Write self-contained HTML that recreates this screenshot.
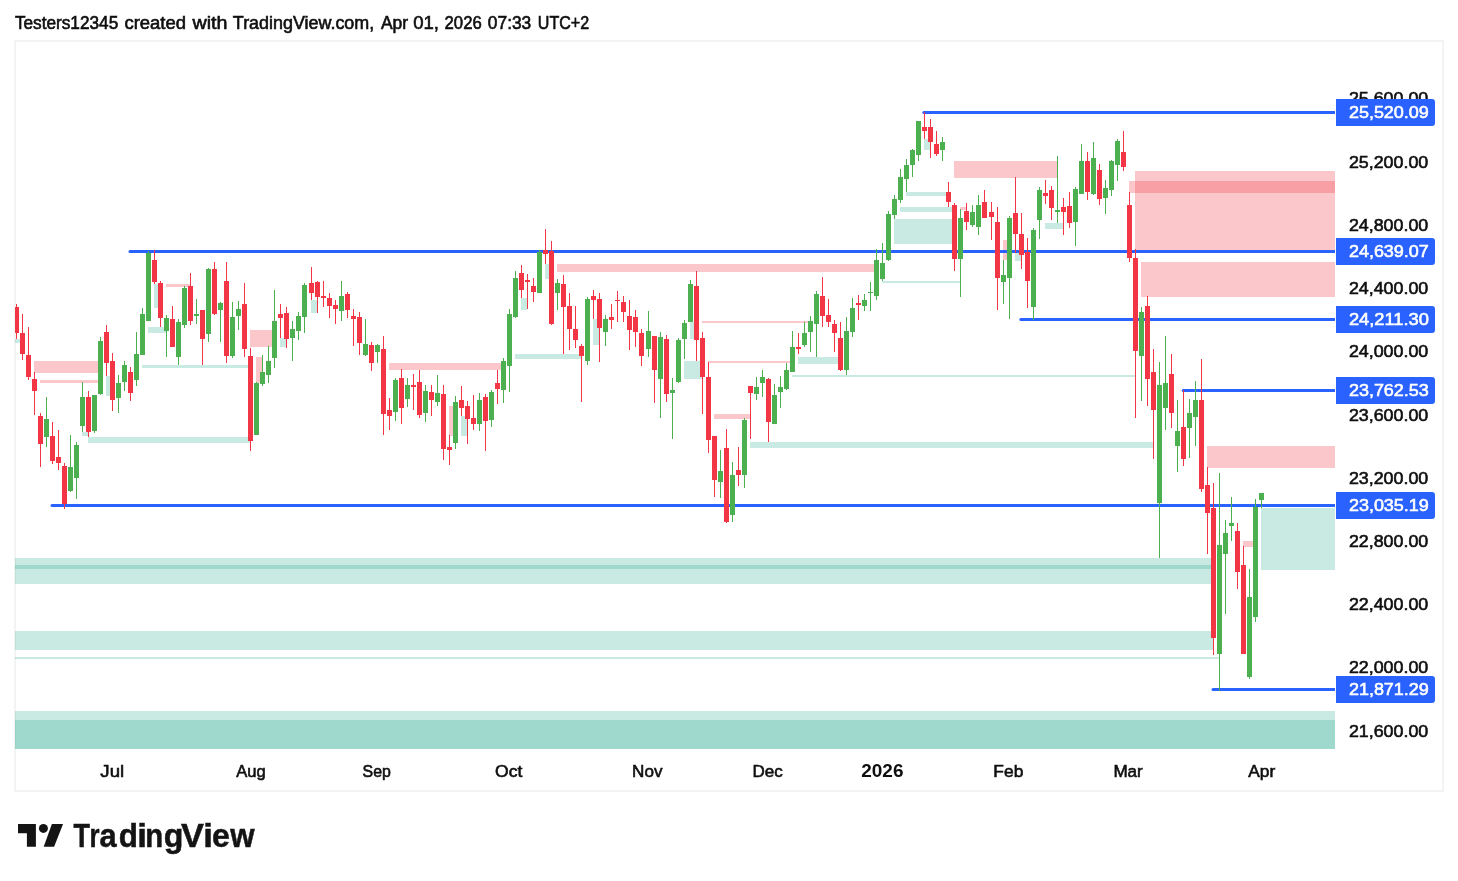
<!DOCTYPE html>
<html lang="en"><head><meta charset="utf-8"><title>TradingView chart snapshot</title>
<style>
html,body{margin:0;padding:0;background:#fff;}
body{width:1458px;height:881px;overflow:hidden;position:relative;font-family:"Liberation Sans",sans-serif;}
svg{position:absolute;left:0;top:0;display:block}
svg rect, .candles path{shape-rendering:crispEdges}
.zr{fill:rgba(242,54,69,0.28)}
.zg{fill:rgba(8,153,129,0.22)}
.u{fill:#4caf50}
.d{fill:#f23645}
.ax{font-family:"Liberation Sans",sans-serif;font-size:17.1px;fill:#0f0f0f;stroke:#0f0f0f;stroke-width:0.6px}
.ax.w{fill:#fff;stroke:#fff}
.ax.b{font-weight:bold;stroke-width:0;font-size:18.2px}
.ax.t{font-size:17.1px}
.hd{font-family:"Liberation Sans",sans-serif;font-size:17.6px;fill:#0f0f0f;stroke:#0f0f0f;stroke-width:0.6px}
.logo{font-family:"Liberation Sans",sans-serif;font-weight:bold;font-size:32.6px;fill:#141414;stroke:#141414;stroke-width:0.5px}
</style></head><body>
<svg width="1458" height="881" viewBox="0 0 1458 881">
<rect x="0" y="0" width="1458" height="881" fill="#fff"/>
<text y="28.75" class="hd"><tspan x="14.91" textLength="103.32" lengthAdjust="spacingAndGlyphs">Testers12345</tspan> <tspan x="124.41" textLength="61.53" lengthAdjust="spacingAndGlyphs">created</tspan> <tspan x="192.50" textLength="34.97" lengthAdjust="spacingAndGlyphs">with</tspan> <tspan x="232.89" textLength="141.35" lengthAdjust="spacingAndGlyphs">TradingView.com,</tspan> <tspan x="380.90" textLength="27.19" lengthAdjust="spacingAndGlyphs">Apr</tspan> <tspan x="413.21" textLength="25.80" lengthAdjust="spacingAndGlyphs">01,</tspan> <tspan x="444.55" textLength="37.16" lengthAdjust="spacingAndGlyphs">2026</tspan> <tspan x="487.86" textLength="43.41" lengthAdjust="spacingAndGlyphs">07:33</tspan> <tspan x="537.86" textLength="51.33" lengthAdjust="spacingAndGlyphs">UTC+2</tspan></text>
<rect x="15" y="41" width="1428" height="750" fill="#fff" stroke="#f3f3f3" stroke-width="2"/>
<g class="zones">
<rect x="15" y="339" width="7" height="4" class="zg"/>
<rect x="34" y="361" width="66" height="12" class="zr"/>
<rect x="40" y="380" width="60" height="3" class="zr"/>
<rect x="154" y="284" width="6" height="24" class="zg"/>
<rect x="166" y="284" width="24" height="3" class="zr"/>
<rect x="148" y="327" width="18" height="6" class="zg"/>
<rect x="142" y="365" width="108" height="3" class="zg"/>
<rect x="106" y="376" width="6" height="20" class="zg"/>
<rect x="82" y="432" width="6" height="4" class="zg"/>
<rect x="88" y="437" width="162" height="6" class="zg"/>
<rect x="250" y="330" width="24" height="17" class="zr"/>
<rect x="256" y="357" width="6" height="26" class="zr"/>
<rect x="280" y="338" width="6" height="9" class="zg"/>
<rect x="311" y="300" width="6" height="13" class="zg"/>
<rect x="389" y="363" width="114" height="7" class="zr"/>
<rect x="449" y="406" width="6" height="30" class="zr"/>
<rect x="461" y="416" width="6" height="20" class="zg"/>
<rect x="545" y="264" width="6" height="15" class="zg"/>
<rect x="521" y="298" width="6" height="12" class="zg"/>
<rect x="515" y="354" width="66" height="5" class="zg"/>
<rect x="593" y="319" width="6" height="26" class="zg"/>
<rect x="690" y="322" width="6" height="17" class="zg"/>
<rect x="684" y="361" width="18" height="18" class="zg"/>
<rect x="702" y="321" width="108" height="2" class="zr"/>
<rect x="708" y="361" width="84" height="2" class="zr"/>
<rect x="714" y="414" width="36" height="5" class="zr"/>
<rect x="750" y="442" width="403" height="6" class="zg"/>
<rect x="557" y="264" width="319" height="8" class="zr"/>
<rect x="798" y="357" width="42" height="7" class="zg"/>
<rect x="792" y="375" width="343" height="2" class="zg"/>
<rect x="882" y="281" width="78" height="2" class="zg"/>
<rect x="894" y="219" width="60" height="25" class="zg"/>
<rect x="900" y="207" width="54" height="5" class="zg"/>
<rect x="906" y="192" width="42" height="4" class="zg"/>
<rect x="924" y="139" width="6" height="11" class="zg"/>
<rect x="954" y="161" width="103" height="17" class="zr"/>
<rect x="960" y="207" width="6" height="3" class="zr"/>
<rect x="1003" y="240" width="6" height="20" class="zr"/>
<rect x="1015" y="253" width="6" height="8" class="zg"/>
<rect x="1045" y="223" width="18" height="6" class="zg"/>
<rect x="1135" y="171" width="200" height="79" class="zr"/>
<rect x="1129" y="181" width="206" height="12" class="zr"/>
<rect x="1141" y="262" width="194" height="35" class="zr"/>
<rect x="1207" y="446" width="128" height="22" class="zr"/>
<rect x="1261" y="508" width="74" height="62" class="zg"/>
<rect x="1243" y="541" width="12" height="6" class="zr"/>
<rect x="15" y="558" width="1198" height="11" class="zg"/>
<rect x="15" y="565" width="1198" height="19" class="zg"/>
<rect x="15" y="631" width="1198" height="19" class="zg"/>
<rect x="15" y="657" width="1204" height="2" class="zg"/>
<rect x="15" y="711" width="1320" height="38" class="zg"/>
<rect x="15" y="720" width="1320" height="29" class="zg"/>
</g>
<g class="levels" fill="#2962ff">
<path d="M923.8 111H1335v3H923.8a1.5 1.5 0 0 1 0-3z"/>
<path d="M130 250H1335v3H130a1.5 1.5 0 0 1 0-3z"/>
<path d="M1020.8 318H1335v3H1020.8a1.5 1.5 0 0 1 0-3z"/>
<path d="M1183.2 389H1335v3H1183.2a1.5 1.5 0 0 1 0-3z"/>
<path d="M52 504H1335v3H52a1.5 1.5 0 0 1 0-3z"/>
<path d="M1213 688H1335v3H1213a1.5 1.5 0 0 1 0-3z"/>
</g>
<g class="candles">
<path class="d" d="M16 304h1v35h-1zM15 307h4v26h-4z"/>
<path class="d" d="M22 314h1v46h-1zM20 333h5v21h-5z"/>
<path class="d" d="M28 327h1v53h-1zM26 355h5v22h-5z"/>
<path class="d" d="M34 372h1v43h-1zM32 379h5v12h-5z"/>
<path class="d" d="M40 413h1v54h-1zM38 416h5v28h-5z"/>
<path class="u" d="M46 397h1v50h-1zM44 419h5v18h-5z"/>
<path class="d" d="M52 422h1v42h-1zM50 436h5v25h-5z"/>
<path class="d" d="M58 430h1v40h-1zM56 457h5v6h-5z"/>
<path class="d" d="M64 463h1v46h-1zM62 466h5v38h-5z"/>
<path class="u" d="M70 435h1v57h-1zM68 467h5v24h-5z"/>
<path class="u" d="M76 442h1v57h-1zM74 445h5v33h-5z"/>
<path class="u" d="M82 382h1v50h-1zM80 397h5v29h-5z"/>
<path class="d" d="M88 391h1v46h-1zM86 397h5v35h-5z"/>
<path class="u" d="M94 395h1v38h-1zM92 395h5v36h-5z"/>
<path class="u" d="M100 337h1v58h-1zM98 341h5v53h-5z"/>
<path class="d" d="M106 325h1v51h-1zM104 332h5v31h-5z"/>
<path class="d" d="M112 353h1v58h-1zM110 361h5v39h-5z"/>
<path class="u" d="M118 375h1v38h-1zM116 383h5v15h-5z"/>
<path class="u" d="M124 361h1v30h-1zM122 365h5v17h-5z"/>
<path class="d" d="M130 367h1v34h-1zM128 372h5v21h-5z"/>
<path class="u" d="M136 332h1v54h-1zM134 354h5v26h-5z"/>
<path class="u" d="M142 308h1v47h-1zM140 314h5v41h-5z"/>
<path class="u" d="M148 251h1v70h-1zM146 253h5v68h-5z"/>
<path class="d" d="M154 250h1v34h-1zM152 260h5v22h-5z"/>
<path class="d" d="M160 281h1v46h-1zM158 283h5v35h-5z"/>
<path class="u" d="M166 315h1v42h-1zM164 318h5v13h-5z"/>
<path class="d" d="M172 306h1v41h-1zM170 319h5v28h-5z"/>
<path class="u" d="M178 319h1v46h-1zM176 322h5v35h-5z"/>
<path class="u" d="M184 286h1v42h-1zM182 288h5v37h-5z"/>
<path class="d" d="M190 273h1v52h-1zM188 286h5v35h-5z"/>
<path class="u" d="M196 299h1v25h-1zM194 314h5v2h-5z"/>
<path class="d" d="M202 310h1v55h-1zM200 310h5v29h-5z"/>
<path class="u" d="M208 268h1v74h-1zM206 269h5v65h-5z"/>
<path class="d" d="M214 262h1v53h-1zM212 269h5v45h-5z"/>
<path class="u" d="M220 302h1v40h-1zM218 303h5v7h-5z"/>
<path class="d" d="M226 262h1v101h-1zM224 281h5v75h-5z"/>
<path class="u" d="M232 302h1v56h-1zM230 317h5v39h-5z"/>
<path class="u" d="M238 301h1v29h-1zM236 309h5v7h-5z"/>
<path class="d" d="M244 283h1v74h-1zM242 304h5v45h-5z"/>
<path class="d" d="M250 348h1v103h-1zM248 356h5v85h-5z"/>
<path class="u" d="M256 382h1v53h-1zM254 383h5v52h-5z"/>
<path class="u" d="M262 355h1v31h-1zM260 372h5v12h-5z"/>
<path class="u" d="M268 346h1v37h-1zM266 361h5v14h-5z"/>
<path class="u" d="M274 290h1v78h-1zM272 321h5v37h-5z"/>
<path class="d" d="M280 304h1v34h-1zM278 314h5v4h-5z"/>
<path class="d" d="M286 307h1v41h-1zM284 313h5v26h-5z"/>
<path class="u" d="M292 321h1v40h-1zM290 329h5v9h-5z"/>
<path class="u" d="M298 312h1v28h-1zM296 316h5v15h-5z"/>
<path class="u" d="M304 283h1v50h-1zM302 285h5v32h-5z"/>
<path class="d" d="M311 267h1v33h-1zM309 283h5v10h-5z"/>
<path class="d" d="M317 281h1v32h-1zM315 282h5v15h-5z"/>
<path class="d" d="M323 281h1v26h-1zM321 296h5v2h-5z"/>
<path class="d" d="M329 293h1v25h-1zM327 298h5v8h-5z"/>
<path class="d" d="M335 300h1v24h-1zM333 305h5v4h-5z"/>
<path class="u" d="M341 281h1v40h-1zM339 296h5v15h-5z"/>
<path class="d" d="M347 292h1v26h-1zM345 294h5v16h-5z"/>
<path class="d" d="M353 309h1v37h-1zM351 316h5v3h-5z"/>
<path class="d" d="M359 312h1v43h-1zM357 317h5v26h-5z"/>
<path class="u" d="M365 319h1v37h-1zM363 344h5v11h-5z"/>
<path class="d" d="M371 342h1v29h-1zM369 345h5v18h-5z"/>
<path class="u" d="M377 344h1v19h-1zM375 345h5v7h-5z"/>
<path class="d" d="M383 336h1v99h-1zM381 349h5v65h-5z"/>
<path class="d" d="M389 398h1v32h-1zM387 410h5v6h-5z"/>
<path class="u" d="M395 378h1v43h-1zM393 380h5v32h-5z"/>
<path class="d" d="M401 369h1v55h-1zM399 378h5v30h-5z"/>
<path class="u" d="M407 378h1v29h-1zM405 385h5v14h-5z"/>
<path class="d" d="M413 374h1v36h-1zM411 385h5v2h-5z"/>
<path class="d" d="M419 370h1v48h-1zM417 382h5v33h-5z"/>
<path class="u" d="M425 385h1v37h-1zM423 391h5v22h-5z"/>
<path class="d" d="M431 385h1v31h-1zM429 392h5v8h-5z"/>
<path class="u" d="M437 375h1v31h-1zM435 393h5v9h-5z"/>
<path class="d" d="M443 385h1v75h-1zM441 394h5v55h-5z"/>
<path class="d" d="M449 435h1v30h-1zM447 447h5v3h-5z"/>
<path class="u" d="M455 396h1v53h-1zM453 402h5v41h-5z"/>
<path class="d" d="M461 386h1v30h-1zM459 400h5v8h-5z"/>
<path class="d" d="M467 401h1v43h-1zM465 406h5v13h-5z"/>
<path class="d" d="M473 395h1v35h-1zM471 418h5v6h-5z"/>
<path class="u" d="M479 393h1v38h-1zM477 400h5v24h-5z"/>
<path class="d" d="M485 394h1v57h-1zM483 397h5v24h-5z"/>
<path class="u" d="M491 390h1v37h-1zM489 392h5v28h-5z"/>
<path class="d" d="M497 370h1v34h-1zM495 383h5v6h-5z"/>
<path class="u" d="M503 358h1v45h-1zM501 361h5v29h-5z"/>
<path class="u" d="M509 309h1v83h-1zM507 314h5v52h-5z"/>
<path class="u" d="M515 271h1v47h-1zM513 278h5v39h-5z"/>
<path class="d" d="M521 265h1v33h-1zM519 273h5v17h-5z"/>
<path class="d" d="M527 274h1v35h-1zM525 280h5v2h-5z"/>
<path class="d" d="M533 278h1v24h-1zM531 286h5v6h-5z"/>
<path class="u" d="M539 250h1v43h-1zM537 252h5v41h-5z"/>
<path class="d" d="M545 229h1v35h-1zM543 250h5v4h-5z"/>
<path class="d" d="M551 241h1v84h-1zM549 251h5v73h-5z"/>
<path class="u" d="M557 279h1v31h-1zM555 283h5v10h-5z"/>
<path class="d" d="M563 275h1v79h-1zM561 284h5v23h-5z"/>
<path class="d" d="M569 293h1v57h-1zM567 306h5v23h-5z"/>
<path class="d" d="M575 306h1v42h-1zM573 329h5v11h-5z"/>
<path class="d" d="M581 344h1v58h-1zM579 346h5v10h-5z"/>
<path class="u" d="M587 297h1v68h-1zM585 299h5v62h-5z"/>
<path class="d" d="M593 290h1v29h-1zM591 296h5v4h-5z"/>
<path class="d" d="M599 293h1v69h-1zM597 299h5v29h-5z"/>
<path class="u" d="M605 315h1v31h-1zM603 319h5v13h-5z"/>
<path class="d" d="M611 304h1v25h-1zM609 317h5v3h-5z"/>
<path class="d" d="M617 291h1v31h-1zM615 300h5v1h-5z"/>
<path class="d" d="M623 296h1v26h-1zM621 302h5v10h-5z"/>
<path class="d" d="M629 300h1v50h-1zM627 316h5v14h-5z"/>
<path class="d" d="M635 310h1v37h-1zM633 317h5v15h-5z"/>
<path class="d" d="M641 329h1v37h-1zM639 333h5v23h-5z"/>
<path class="u" d="M648 311h1v46h-1zM646 331h5v18h-5z"/>
<path class="d" d="M654 336h1v67h-1zM652 336h5v34h-5z"/>
<path class="u" d="M660 332h1v86h-1zM658 337h5v42h-5z"/>
<path class="d" d="M666 335h1v67h-1zM664 339h5v55h-5z"/>
<path class="u" d="M672 378h1v61h-1zM670 390h5v3h-5z"/>
<path class="u" d="M678 338h1v45h-1zM676 340h5v42h-5z"/>
<path class="u" d="M684 320h1v39h-1zM682 323h5v16h-5z"/>
<path class="u" d="M690 280h1v42h-1zM688 284h5v38h-5z"/>
<path class="d" d="M696 271h1v90h-1zM694 286h5v54h-5z"/>
<path class="d" d="M702 332h1v82h-1zM700 338h5v39h-5z"/>
<path class="d" d="M708 362h1v91h-1zM706 377h5v63h-5z"/>
<path class="d" d="M714 436h1v61h-1zM712 436h5v44h-5z"/>
<path class="u" d="M720 450h1v48h-1zM718 471h5v11h-5z"/>
<path class="d" d="M726 429h1v94h-1zM724 448h5v74h-5z"/>
<path class="u" d="M732 462h1v60h-1zM730 475h5v40h-5z"/>
<path class="d" d="M738 447h1v39h-1zM736 470h5v5h-5z"/>
<path class="u" d="M744 418h1v70h-1zM742 420h5v55h-5z"/>
<path class="d" d="M750 386h1v53h-1zM748 386h5v7h-5z"/>
<path class="u" d="M756 377h1v23h-1zM754 387h5v7h-5z"/>
<path class="u" d="M762 370h1v27h-1zM760 377h5v6h-5z"/>
<path class="d" d="M768 378h1v64h-1zM766 379h5v43h-5z"/>
<path class="u" d="M774 384h1v40h-1zM772 395h5v29h-5z"/>
<path class="u" d="M780 376h1v32h-1zM778 387h5v5h-5z"/>
<path class="u" d="M786 363h1v27h-1zM784 370h5v19h-5z"/>
<path class="u" d="M792 331h1v41h-1zM790 347h5v25h-5z"/>
<path class="d" d="M798 333h1v21h-1zM796 347h5v2h-5z"/>
<path class="u" d="M804 322h1v25h-1zM802 333h5v12h-5z"/>
<path class="u" d="M810 316h1v36h-1zM808 321h5v11h-5z"/>
<path class="u" d="M816 291h1v66h-1zM814 294h5v30h-5z"/>
<path class="d" d="M822 277h1v50h-1zM820 296h5v20h-5z"/>
<path class="d" d="M828 299h1v28h-1zM826 315h5v7h-5z"/>
<path class="d" d="M834 320h1v32h-1zM832 324h5v9h-5z"/>
<path class="d" d="M840 322h1v49h-1zM838 338h5v32h-5z"/>
<path class="u" d="M846 317h1v58h-1zM844 331h5v39h-5z"/>
<path class="u" d="M852 298h1v39h-1zM850 308h5v24h-5z"/>
<path class="d" d="M858 295h1v25h-1zM856 303h5v2h-5z"/>
<path class="u" d="M864 294h1v17h-1zM862 300h5v6h-5z"/>
<path class="u" d="M870 282h1v29h-1zM868 292h5v1h-5z"/>
<path class="u" d="M876 249h1v51h-1zM874 260h5v36h-5z"/>
<path class="u" d="M882 243h1v38h-1zM880 263h5v16h-5z"/>
<path class="u" d="M888 211h1v50h-1zM886 214h5v46h-5z"/>
<path class="u" d="M894 195h1v24h-1zM892 199h5v16h-5z"/>
<path class="u" d="M900 169h1v34h-1zM898 177h5v23h-5z"/>
<path class="u" d="M906 159h1v33h-1zM904 165h5v14h-5z"/>
<path class="u" d="M912 149h1v28h-1zM910 150h5v15h-5z"/>
<path class="u" d="M918 121h1v40h-1zM916 121h5v34h-5z"/>
<path class="d" d="M924 112h1v27h-1zM922 127h5v4h-5z"/>
<path class="d" d="M930 119h1v39h-1zM928 127h5v15h-5z"/>
<path class="d" d="M936 131h1v25h-1zM934 144h5v10h-5z"/>
<path class="u" d="M942 137h1v24h-1zM940 142h5v8h-5z"/>
<path class="d" d="M948 182h1v25h-1zM946 192h5v10h-5z"/>
<path class="d" d="M954 203h1v68h-1zM952 205h5v54h-5z"/>
<path class="u" d="M960 209h1v88h-1zM958 218h5v41h-5z"/>
<path class="d" d="M966 203h1v27h-1zM964 211h5v11h-5z"/>
<path class="u" d="M972 205h1v22h-1zM970 212h5v13h-5z"/>
<path class="u" d="M978 195h1v40h-1zM976 205h5v22h-5z"/>
<path class="d" d="M984 190h1v28h-1zM982 202h5v16h-5z"/>
<path class="d" d="M991 202h1v38h-1zM989 212h5v5h-5z"/>
<path class="d" d="M997 207h1v103h-1zM995 222h5v56h-5z"/>
<path class="u" d="M1003 260h1v44h-1zM1001 275h5v7h-5z"/>
<path class="u" d="M1009 216h1v103h-1zM1007 218h5v60h-5z"/>
<path class="d" d="M1015 177h1v76h-1zM1013 213h5v21h-5z"/>
<path class="d" d="M1021 213h1v56h-1zM1019 234h5v21h-5z"/>
<path class="d" d="M1027 238h1v70h-1zM1025 252h5v29h-5z"/>
<path class="u" d="M1033 228h1v92h-1zM1031 230h5v77h-5z"/>
<path class="u" d="M1039 187h1v52h-1zM1037 190h5v30h-5z"/>
<path class="d" d="M1045 180h1v24h-1zM1043 193h5v3h-5z"/>
<path class="d" d="M1051 186h1v34h-1zM1049 190h5v18h-5z"/>
<path class="u" d="M1057 156h1v67h-1zM1055 210h5v2h-5z"/>
<path class="d" d="M1063 198h1v37h-1zM1061 207h5v5h-5z"/>
<path class="d" d="M1069 192h1v36h-1zM1067 206h5v17h-5z"/>
<path class="u" d="M1075 187h1v59h-1zM1073 189h5v33h-5z"/>
<path class="u" d="M1081 144h1v50h-1zM1079 161h5v33h-5z"/>
<path class="d" d="M1087 152h1v48h-1zM1085 161h5v31h-5z"/>
<path class="u" d="M1093 142h1v53h-1zM1091 158h5v36h-5z"/>
<path class="d" d="M1099 164h1v41h-1zM1097 170h5v29h-5z"/>
<path class="u" d="M1105 180h1v34h-1zM1103 188h5v10h-5z"/>
<path class="u" d="M1111 160h1v36h-1zM1109 161h5v29h-5z"/>
<path class="u" d="M1117 139h1v42h-1zM1115 141h5v24h-5z"/>
<path class="d" d="M1123 131h1v40h-1zM1121 152h5v15h-5z"/>
<path class="d" d="M1129 192h1v70h-1zM1127 205h5v53h-5z"/>
<path class="d" d="M1135 249h1v169h-1zM1133 258h5v93h-5z"/>
<path class="u" d="M1141 307h1v94h-1zM1139 312h5v44h-5z"/>
<path class="d" d="M1147 296h1v110h-1zM1145 306h5v73h-5z"/>
<path class="d" d="M1153 349h1v110h-1zM1151 372h5v38h-5z"/>
<path class="u" d="M1159 362h1v196h-1zM1157 385h5v118h-5z"/>
<path class="u" d="M1165 336h1v94h-1zM1163 383h5v25h-5z"/>
<path class="d" d="M1171 354h1v74h-1zM1169 374h5v39h-5z"/>
<path class="u" d="M1177 400h1v72h-1zM1175 431h5v15h-5z"/>
<path class="d" d="M1183 390h1v76h-1zM1181 427h5v32h-5z"/>
<path class="u" d="M1189 399h1v59h-1zM1187 413h5v15h-5z"/>
<path class="u" d="M1195 381h1v65h-1zM1193 400h5v17h-5z"/>
<path class="d" d="M1201 359h1v133h-1zM1199 400h5v89h-5z"/>
<path class="d" d="M1207 467h1v87h-1zM1205 485h5v28h-5z"/>
<path class="d" d="M1213 483h1v172h-1zM1211 508h5v130h-5z"/>
<path class="u" d="M1219 473h1v218h-1zM1217 545h5v109h-5z"/>
<path class="u" d="M1225 520h1v94h-1zM1223 533h5v21h-5z"/>
<path class="u" d="M1231 497h1v44h-1zM1229 523h5v3h-5z"/>
<path class="d" d="M1237 523h1v66h-1zM1235 531h5v41h-5z"/>
<path class="d" d="M1243 546h1v108h-1zM1241 565h5v89h-5z"/>
<path class="u" d="M1249 569h1v110h-1zM1247 597h5v80h-5z"/>
<path class="u" d="M1255 499h1v123h-1zM1253 507h5v110h-5z"/>
<path class="u" d="M1261 493h1v15h-1zM1259 493h5v7h-5z"/>
</g>
<g class="axis">
<text x="1348.92" y="736.67" class="ax" textLength="79.35" lengthAdjust="spacingAndGlyphs">21,600.00</text>
<text x="1348.92" y="673.44" class="ax" textLength="79.35" lengthAdjust="spacingAndGlyphs">22,000.00</text>
<text x="1348.92" y="610.22" class="ax" textLength="79.35" lengthAdjust="spacingAndGlyphs">22,400.00</text>
<text x="1348.92" y="546.99" class="ax" textLength="79.35" lengthAdjust="spacingAndGlyphs">22,800.00</text>
<text x="1348.92" y="483.77" class="ax" textLength="79.35" lengthAdjust="spacingAndGlyphs">23,200.00</text>
<text x="1348.92" y="420.55" class="ax" textLength="79.35" lengthAdjust="spacingAndGlyphs">23,600.00</text>
<text x="1348.92" y="357.32" class="ax" textLength="79.35" lengthAdjust="spacingAndGlyphs">24,000.00</text>
<text x="1348.92" y="294.10" class="ax" textLength="79.35" lengthAdjust="spacingAndGlyphs">24,400.00</text>
<text x="1348.92" y="230.87" class="ax" textLength="79.35" lengthAdjust="spacingAndGlyphs">24,800.00</text>
<text x="1348.92" y="167.65" class="ax" textLength="79.35" lengthAdjust="spacingAndGlyphs">25,200.00</text>
<text x="1348.92" y="104.43" class="ax" textLength="79.35" lengthAdjust="spacingAndGlyphs">25,600.00</text>
<path d="M1336 99h96a3 3 0 0 1 3 3v21a3 3 0 0 1-3 3h-96z" fill="#2962ff"/>
<text x="1348.91" y="117.55" class="ax w" textLength="79.93" lengthAdjust="spacingAndGlyphs">25,520.09</text>
<path d="M1336 238h96a3 3 0 0 1 3 3v21a3 3 0 0 1-3 3h-96z" fill="#2962ff"/>
<text x="1348.91" y="256.55" class="ax w" textLength="79.93" lengthAdjust="spacingAndGlyphs">24,639.07</text>
<path d="M1336 306h96a3 3 0 0 1 3 3v21a3 3 0 0 1-3 3h-96z" fill="#2962ff"/>
<text x="1348.90" y="324.55" class="ax w" textLength="79.94" lengthAdjust="spacingAndGlyphs">24,211.30</text>
<path d="M1336 377h96a3 3 0 0 1 3 3v21a3 3 0 0 1-3 3h-96z" fill="#2962ff"/>
<text x="1348.91" y="395.55" class="ax w" textLength="79.93" lengthAdjust="spacingAndGlyphs">23,762.53</text>
<path d="M1336 492h96a3 3 0 0 1 3 3v21a3 3 0 0 1-3 3h-96z" fill="#2962ff"/>
<text x="1348.91" y="510.55" class="ax w" textLength="79.93" lengthAdjust="spacingAndGlyphs">23,035.19</text>
<path d="M1336 676h96a3 3 0 0 1 3 3v21a3 3 0 0 1-3 3h-96z" fill="#2962ff"/>
<text x="1348.91" y="694.55" class="ax w" textLength="79.93" lengthAdjust="spacingAndGlyphs">21,871.29</text>
<text x="100.33" y="776.75" class="ax t" textLength="23.78" lengthAdjust="spacingAndGlyphs">Jul</text>
<text x="236.30" y="776.75" class="ax t" textLength="29.43" lengthAdjust="spacingAndGlyphs">Aug</text>
<text x="362.60" y="776.75" class="ax t" textLength="28.32" lengthAdjust="spacingAndGlyphs">Sep</text>
<text x="495.13" y="776.75" class="ax t" textLength="27.27" lengthAdjust="spacingAndGlyphs">Oct</text>
<text x="632.10" y="776.75" class="ax t" textLength="30.35" lengthAdjust="spacingAndGlyphs">Nov</text>
<text x="752.41" y="776.75" class="ax t" textLength="30.30" lengthAdjust="spacingAndGlyphs">Dec</text>
<text x="861.22" y="776.90" class="ax b" textLength="42.23" lengthAdjust="spacingAndGlyphs">2026</text>
<text x="993.38" y="776.75" class="ax t" textLength="29.96" lengthAdjust="spacingAndGlyphs">Feb</text>
<text x="1113.40" y="776.75" class="ax t" textLength="29.40" lengthAdjust="spacingAndGlyphs">Mar</text>
<text x="1248.30" y="776.75" class="ax t" textLength="26.96" lengthAdjust="spacingAndGlyphs">Apr</text>
</g>
<g fill="#141414">
<path d="M18 823.9h17.9v22.75h-9v-13.4H18z"/>
<circle cx="43.4" cy="828.4" r="4.5"/>
<path d="M51.9 823.9h11.15l-8.95 22.75H43.7z"/>
</g>
<text y="846.65" class="logo"><tspan x="73.39" textLength="16.44" lengthAdjust="spacingAndGlyphs">T</tspan><tspan x="89.42" textLength="10.02" lengthAdjust="spacingAndGlyphs">r</tspan><tspan x="99.46" textLength="17.13" lengthAdjust="spacingAndGlyphs">a</tspan><tspan x="118.80" textLength="19.18" lengthAdjust="spacingAndGlyphs">d</tspan><tspan x="137.20" textLength="9.67" lengthAdjust="spacingAndGlyphs">i</tspan><tspan x="145.17" textLength="17.95" lengthAdjust="spacingAndGlyphs">n</tspan><tspan x="163.87" textLength="19.66" lengthAdjust="spacingAndGlyphs">g</tspan><tspan x="181.04" textLength="22.91" lengthAdjust="spacingAndGlyphs">V</tspan><tspan x="203.20" textLength="9.67" lengthAdjust="spacingAndGlyphs">i</tspan><tspan x="211.97" textLength="17.84" lengthAdjust="spacingAndGlyphs">e</tspan><tspan x="230.20" textLength="24.29" lengthAdjust="spacingAndGlyphs">w</tspan></text>
</svg>
</body></html>
